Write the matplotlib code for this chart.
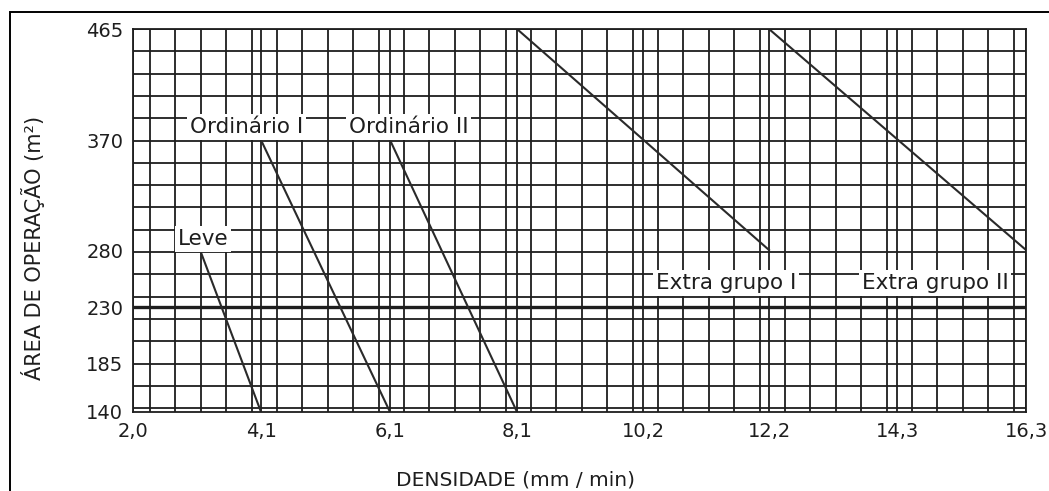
import numpy as np
import matplotlib
matplotlib.use('Agg')
import matplotlib.pyplot as plt
from matplotlib.patches import Rectangle
from matplotlib.ticker import FixedLocator, NullLocator

# tick values of the (non-uniform) axes
x_ticks = [2.0, 4.1, 6.1, 8.1, 10.2, 12.2, 14.3, 16.3]
x_labels = ['2,0', '4,1', '6,1', '8,1', '10,2', '12,2', '14,3', '16,3']
y_ticks = [140, 185, 230, 280, 370, 465]
y_labels = ['140', '185', '230', '280', '370', '465']

# density (mm/min) vs area of operation (m2) for each hazard class
leve_x = [3.1, 4.1]
leve_y = [280, 140]
ord1_x = [4.1, 6.1]
ord1_y = [370, 140]
ord2_x = [6.1, 8.1]
ord2_y = [370, 140]
extra1_x = [8.1, 12.2]
extra1_y = [465, 280]
extra2_x = [12.2, 16.3]
extra2_y = [465, 280]

# the chart paper is not linear: tick values sit at these relative spots
x_spot = np.array([0, 128, 257, 384, 510, 636, 764, 893]) / 893
y_spot = np.array([0, 49, 105, 162, 272, 383]) / 383

def fx(v):
    return np.interp(v, x_ticks, x_spot)

def fx_inv(p):
    return np.interp(p, x_spot, x_ticks)

def fy(v):
    return np.interp(v, y_ticks, y_spot)

def fy_inv(p):
    return np.interp(p, y_spot, y_ticks)

plt.rcParams['font.family'] = ['DejaVu Sans']
ink = '#1e1e1e'

fig = plt.figure(figsize=(10.49, 4.91), dpi=100)
ax = fig.add_axes([0.1268, 0.1609, 0.8513, 0.7800])
ax.set_xscale('function', functions=(fx, fx_inv))
ax.set_yscale('function', functions=(fy, fy_inv))
ax.set_xlim(2.0, 16.3)
ax.set_ylim(140, 465)

# grid of the chart paper (axes fraction)
gx = list((150 + 25.4 * np.arange(35) - 133) / 893) + list(x_spot)
gy = list((412 - (29 + 22.3 * np.arange(18))) / 383)
for f in gx:
    ax.plot([f, f], [0, 1], transform=ax.transAxes, color=ink, lw=1.3, zorder=1)
for f in gy:
    ax.plot([0, 1], [f, f], transform=ax.transAxes, color=ink, lw=1.3, zorder=1)
ax.axhline(230, color=ink, lw=2.4, zorder=1)

# curves
for xs, ys in [(leve_x, leve_y), (ord1_x, ord1_y), (ord2_x, ord2_y),
               (extra1_x, extra1_y), (extra2_x, extra2_y)]:
    ax.plot(xs, ys, color='#2a2a2a', lw=1.5, zorder=2)

# curve labels
names = ['Leve', 'Ordinário I', 'Ordinário II', 'Extra grupo I', 'Extra grupo II']
spots = [(0.0504, 0.4517), (0.0638, 0.744), (0.2419, 0.744), (0.5857, 0.3368), (0.8163, 0.3368)]
for name, (tx, ty) in zip(names, spots):
    ax.text(tx, ty, name, transform=ax.transAxes, ha='left', va='center',
            fontsize=15.5, color=ink, zorder=3,
            bbox=dict(boxstyle='square,pad=0.12', facecolor='white', edgecolor='none'))

ax.xaxis.set_major_locator(FixedLocator(x_ticks))
ax.xaxis.set_minor_locator(NullLocator())
ax.set_xticklabels(x_labels)
ax.yaxis.set_major_locator(FixedLocator(y_ticks))
ax.yaxis.set_minor_locator(NullLocator())
ax.set_yticklabels(y_labels)
ax.tick_params(length=0, labelsize=14, colors=ink, pad=7)

for s in ax.spines.values():
    s.set_color(ink)
    s.set_linewidth(1.3)

fig.text(515 / 1049, 1 - 480 / 491, 'DENSIDADE (mm / min)', ha='center', va='center',
         fontsize=14.5, color=ink)
fig.text(33 / 1049, 1 - 248 / 491, 'ÁREA DE OPERAÇÃO (m²)', ha='center', va='center',
         rotation=90, fontsize=15, color=ink)

# outer frame of the figure (runs off the right and bottom edges)
fig.add_artist(Rectangle((10 / 1049, -0.2), 1.2, 1.2 - 12 / 491, transform=fig.transFigure,
                         fill=False, edgecolor='black', lw=1.4))

fig.savefig('out.png', dpi=100)
